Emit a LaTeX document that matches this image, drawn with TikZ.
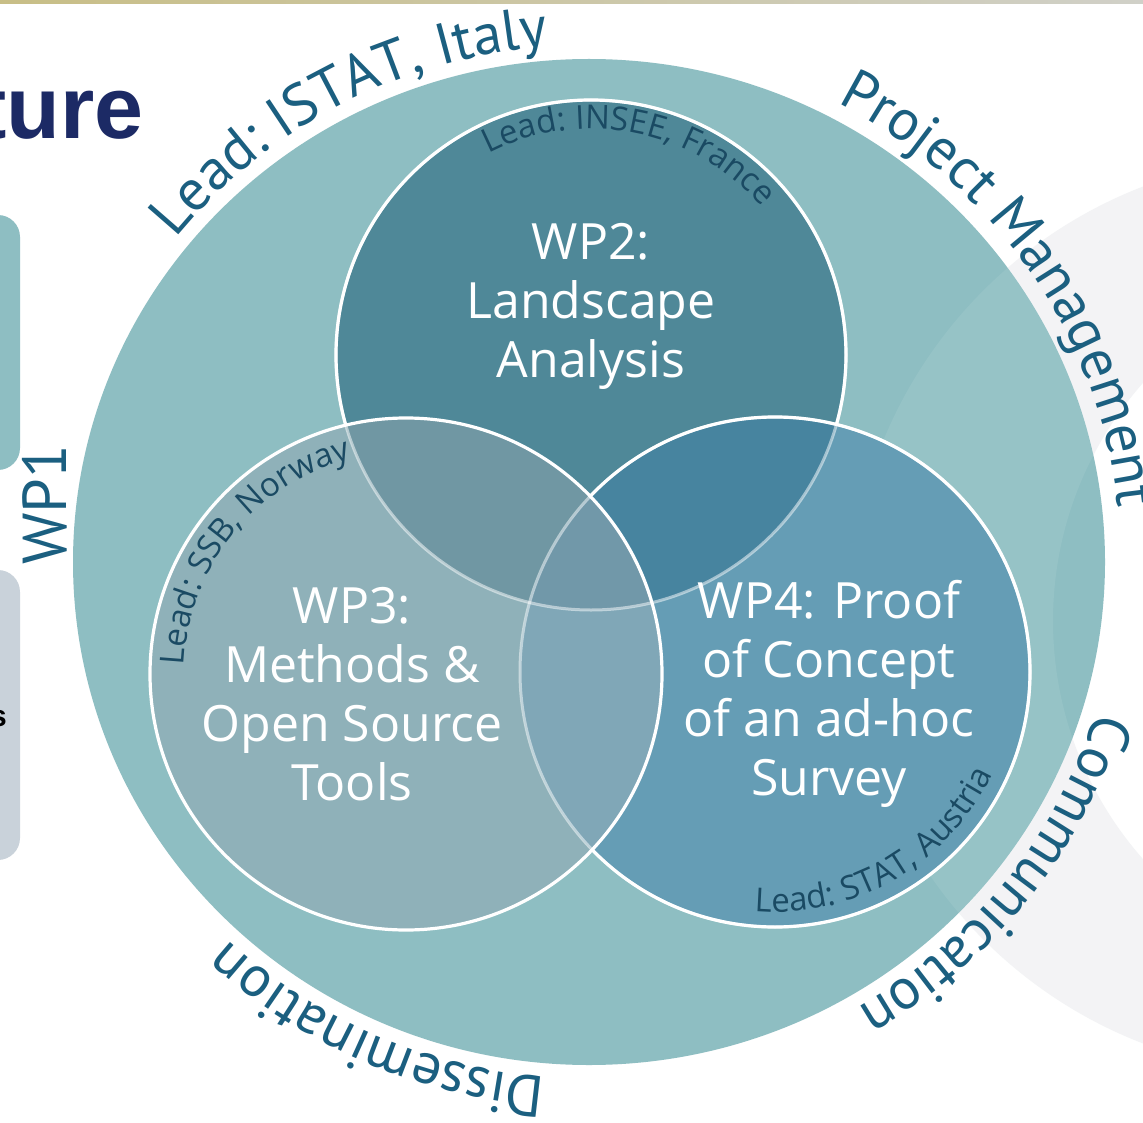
\documentclass[tikz,border=0pt]{standalone}
\usepackage{fontspec}
\usetikzlibrary{decorations.text}
\newfontfamily\innerf{Open Sans}
\newfontfamily\outerf{PT Sans}
\newfontfamily\titlef{Liberation Sans}
\definecolor{bigc}{HTML}{8EBEC2}
\definecolor{ctwo}{HTML}{4F8898}
\definecolor{cthree}{HTML}{8FB1B9}
\definecolor{cfour}{HTML}{659DB5}
\definecolor{ctwothree}{HTML}{7097A3}
\definecolor{ctwofour}{HTML}{47849F}
\definecolor{cthreefour}{HTML}{80A7B7}
\definecolor{call}{HTML}{7198A9}
\definecolor{outc}{HTML}{1B5F80}
\definecolor{leadc}{HTML}{1A4A63}
\definecolor{navy}{HTML}{1C2A65}
\definecolor{ringc}{HTML}{F2F3F5}
\definecolor{boxteal}{HTML}{8EBEC2}
\definecolor{boxgray}{HTML}{C9D2DA}
\tikzset{
  wplabel/.style={align=center, text=white, font=\innerf\fontsize{50}{59}\selectfont},
  ring/.style={draw=white, line width=3.2pt},
  faint/.style={draw=white, line width=3pt, draw opacity=0.5},
}
\newcommand{\leadfmt}{\innerf\fontsize{33}{38}\selectfont\color{leadc}}
\newcommand{\outfmt}{\outerf\fontsize{58}{68}\selectfont\color{outc}}
\begin{document}
\begin{tikzpicture}[x=1pt,y=1pt]
\clip (0,0) rectangle (1143,-1123);
\fill[white] (0,0) rectangle (1143,-1123);
% top line
\shade[left color={rgb,255:red,200;green,190;blue,134}, right color={rgb,255:red,208;green,208;blue,200}] (0,0) rectangle (1143,-4);
% gray ring on the right
\fill[ringc, even odd rule] (1308,-615) circle[radius=459] (1413,-621) circle[radius=360];
% left boxes
\fill[boxteal, rounded corners=22pt] (-60,-215) rectangle (20,-470);
\fill[boxgray, rounded corners=22pt] (-60,-570) rectangle (20,-860);
\node[anchor=base east, inner sep=0pt, font=\titlef\bfseries\fontsize{30}{36}\selectfont] (sfrag) at (7,-726) {s};
% title fragment
\node[anchor=base east, inner sep=0pt, text=navy, font=\titlef\bfseries\fontsize{88}{100}\selectfont] (title) at (144,-139) {ture};
% WP1
\node[rotate=90, inner sep=0pt, text=outc, font=\outerf\fontsize{62}{70}\selectfont] (wpone) at (45,-505) {WP1};
% big ellipse
\coordinate (B) at (589,-562);
\fill[bigc] (B) ellipse[x radius=516, y radius=503];
\fill[white, opacity=0.08, even odd rule] (1308,-615) circle[radius=459] (1413,-621) circle[radius=360];
% circles
\coordinate (C2) at (591,-355);
\coordinate (C3) at (406,-674);
\coordinate (C4) at (775,-672);
\fill[ctwo] (C2) circle[radius=255];
\fill[cthree] (C3) circle[radius=256];
\fill[cfour] (C4) circle[radius=255];
\begin{scope}
  \clip (C3) circle[radius=256];
  \fill[cthreefour] (C4) circle[radius=255];
\end{scope}
\begin{scope}
  \clip (C2) circle[radius=255];
  \fill[ctwothree] (C3) circle[radius=256];
  \fill[ctwofour] (C4) circle[radius=255];
  \clip (C3) circle[radius=256];
  \fill[call] (C4) circle[radius=255];
\end{scope}
% outlines: faint everywhere first
\draw[faint] (C2) circle[radius=255];
\draw[faint] (C4) circle[radius=255];
% WP2 outline solid outside WP3 and WP4
\begin{scope}[even odd rule]
  \clip (-100,100) rectangle (1300,-1300) (C3) circle[radius=256];
  \clip (-100,100) rectangle (1300,-1300) (C4) circle[radius=255];
  \draw[ring] (C2) circle[radius=255];
\end{scope}
% WP4 outline solid outside WP3
\begin{scope}[even odd rule]
  \clip (-100,100) rectangle (1300,-1300) (C3) circle[radius=256];
  \draw[ring] (C4) circle[radius=255];
\end{scope}
% WP3 outline solid
\draw[ring] (C3) circle[radius=256];
% WP labels
\node[wplabel] (wptwo) at (591,-306) {WP2:\\Landscape\\Analysis};
\node[wplabel] (wpthree) at (352,-694) {WP3:\\Methods \&\\Open Source\\Tools};
\node[wplabel] (wpfour) at (829,-694) {WP4: Proof\\of Concept\\of an ad-hoc\\Survey};
% inner lead texts
\path[decorate, decoration={text along path, text align=center, text={|\leadfmt|Lead: INSEE, France}}]
  (C2) ++(124:226) arc[start angle=124, end angle=34, radius=226];
\path[decorate, decoration={text along path, text align=center, text={|\leadfmt|Lead: SSB, Norway}}]
  (C3) ++(184:222) arc[start angle=184, end angle=98, radius=222];
\path[decorate, decoration={text along path, text align=center, text={|\leadfmt|Lead: STAT, Austria}}]
  (C4) ++(-100:240) arc[start angle=-100, end angle=-20, radius=240];
% outer texts
\path[decorate, decoration={text along path, text align=center, text={|\outfmt|Lead: ISTAT, Italy}}]
  (B) ++(158:530 and 517) arc[start angle=158, end angle=78, x radius=530, y radius=517];
\path[decorate, decoration={text along path, text align=center, text={|\outfmt|Project Management}}]
  (B) ++(74:532 and 519) arc[start angle=74, end angle=-6, x radius=532, y radius=519];
\path[decorate, decoration={text along path, text align=center, text={|\outfmt|Communication}}]
  (B) ++(4:530 and 517) arc[start angle=4, end angle=-80, x radius=530, y radius=517];
\path[decorate, decoration={text along path, text align=center, text={|\outfmt|Dissemination}}]
  (B) ++(-72:530 and 517) arc[start angle=-72, end angle=-156, x radius=530, y radius=517];
\end{tikzpicture}
\end{document}
